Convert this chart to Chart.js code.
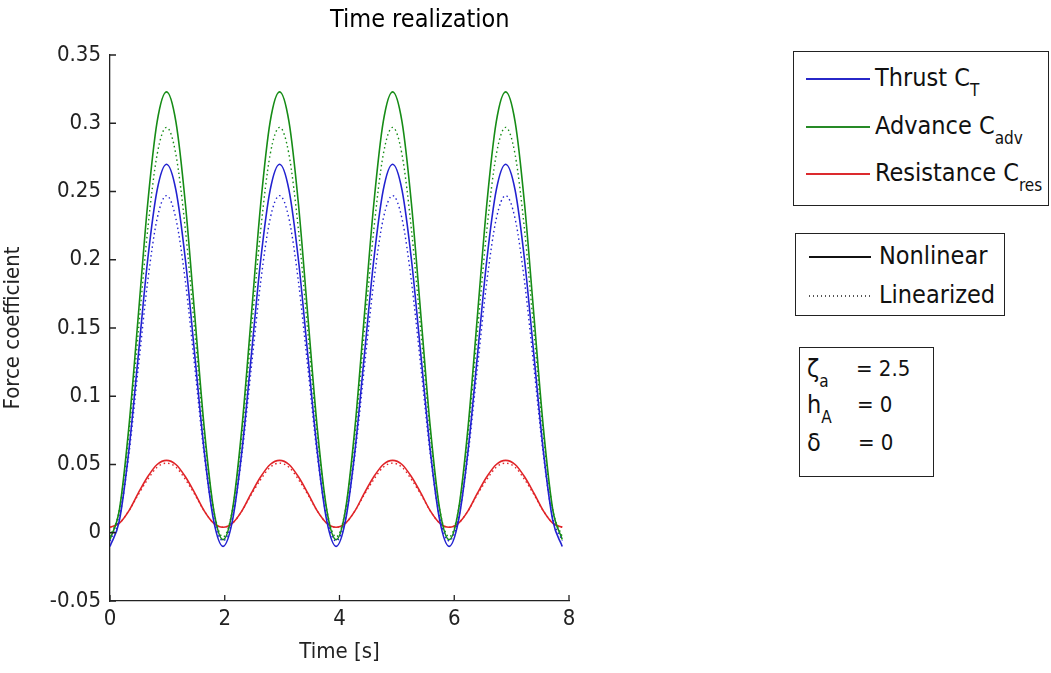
<!DOCTYPE html>
<html>
<head>
<meta charset="utf-8">
<title>Time realization</title>
<script src="https://cdn.jsdelivr.net/npm/chart.js@4.4.0/dist/chart.umd.min.js"></script>
<style>
    body { margin: 0; background: #fff; }
    #wrap { position: relative; width: 1051px; height: 673px; font-family: 'DejaVu Sans Condensed', 'DejaVu Sans', sans-serif; color: #111; }
    #chart-box { position: absolute; left: 0; top: 0; width: 1051px; height: 673px; }
    .title { position: absolute; left: 330px; top: 4px; font-size: 25px; line-height: 30px; white-space: nowrap; color: #000; }
    .box { position: absolute; box-sizing: border-box; border: 1.5px solid #222; background: #fff; }
    .row { position: absolute; font-size: 25px; line-height: 26px; white-space: nowrap; }
    .row.small { font-size: 22px; }
    .sb { position: relative; top: 10px; font-size: 17px; }
    .sample { position: absolute; height: 1.5px; }
    .dots { position: absolute; height: 1.5px; background: repeating-linear-gradient(90deg, #555 0 1.5px, transparent 1.5px 4px); }
</style>
</head>
<body>
<div id="wrap">
    <div id="chart-box"><canvas id="chart"></canvas></div>
    <div class="title">Time realization</div>

    <!-- force legend -->
    <div class="box" style="left:793px; top:51px; width:256px; height:155px;">
        <div class="sample" style="left:12px; top:26px; width:64px; background:#2727c8;"></div>
        <div class="row" style="left:81px; top:13px;">Thrust C<span class="sb">T</span></div>
        <div class="sample" style="left:12px; top:74px; width:64px; background:#268a26;"></div>
        <div class="row" style="left:81px; top:61px;">Advance C<span class="sb">adv</span></div>
        <div class="sample" style="left:12px; top:121px; width:64px; background:#dc2a2e;"></div>
        <div class="row" style="left:81px; top:108px;">Resistance C<span class="sb">res</span></div>
    </div>

    <!-- line style legend -->
    <div class="box" style="left:795px; top:233px; width:210px; height:83px;">
        <div class="sample" style="left:13px; top:22px; width:62px; background:#111;"></div>
        <div class="row" style="left:83px; top:9px;">Nonlinear</div>
        <div class="dots" style="left:13px; top:61px; width:62px;"></div>
        <div class="row" style="left:83px; top:48px;">Linearized</div>
    </div>

    <!-- parameters -->
    <div class="box" style="left:799px; top:347px; width:135px; height:130px;">
        <div class="row" style="left:7px; top:8px;">ζ<span class="sb">a</span></div>
        <div class="row small" style="left:56px; top:8px;">= 2.5</div>
        <div class="row" style="left:7px; top:44px;">h<span class="sb">A</span></div>
        <div class="row small" style="left:57px; top:44px;">= 0</div>
        <div class="row" style="left:7px; top:82px;">δ</div>
        <div class="row small" style="left:58px; top:82px;">= 0</div>
    </div>
</div>

<script>
// Time samples [s]
const times = [
    0, 0.164, 0.328, 0.493, 0.657, 0.821, 0.985, 1.149, 1.314, 1.478, 1.642, 1.806,
    1.970, 2.135, 2.299, 2.463, 2.627, 2.791, 2.956, 3.120, 3.284, 3.448, 3.612, 3.777,
    3.941, 4.105, 4.269, 4.433, 4.598, 4.762, 4.926, 5.090, 5.254, 5.419, 5.583, 5.747,
    5.911, 6.075, 6.240, 6.404, 6.568, 6.732, 6.896, 7.061, 7.225, 7.389, 7.553, 7.717,
    7.882
];

// Force coefficients
const thrustNonlinear = [
    -0.010, 0.009, 0.060, 0.130, 0.200, 0.251, 0.270, 0.251, 0.200, 0.130, 0.060, 0.009,
    -0.010, 0.009, 0.060, 0.130, 0.200, 0.251, 0.270, 0.251, 0.200, 0.130, 0.060, 0.009,
    -0.010, 0.009, 0.060, 0.130, 0.200, 0.251, 0.270, 0.251, 0.200, 0.130, 0.060, 0.009,
    -0.010, 0.009, 0.060, 0.130, 0.200, 0.251, 0.270, 0.251, 0.200, 0.130, 0.060, 0.009,
    -0.010
];
const thrustLinearized = [
    -0.006, 0.011, 0.057, 0.121, 0.184, 0.230, 0.247, 0.230, 0.184, 0.121, 0.057, 0.011,
    -0.006, 0.011, 0.057, 0.121, 0.184, 0.230, 0.247, 0.230, 0.184, 0.121, 0.057, 0.011,
    -0.006, 0.011, 0.057, 0.121, 0.184, 0.230, 0.247, 0.230, 0.184, 0.121, 0.057, 0.011,
    -0.006, 0.011, 0.057, 0.121, 0.184, 0.230, 0.247, 0.230, 0.184, 0.121, 0.057, 0.011,
    -0.006
];
const advanceNonlinear = [
    -0.005, 0.017, 0.077, 0.159, 0.241, 0.301, 0.323, 0.301, 0.241, 0.159, 0.077, 0.017,
    -0.005, 0.017, 0.077, 0.159, 0.241, 0.301, 0.323, 0.301, 0.241, 0.159, 0.077, 0.017,
    -0.005, 0.017, 0.077, 0.159, 0.241, 0.301, 0.323, 0.301, 0.241, 0.159, 0.077, 0.017,
    -0.005, 0.017, 0.077, 0.159, 0.241, 0.301, 0.323, 0.301, 0.241, 0.159, 0.077, 0.017,
    -0.005
];
const advanceLinearized = [
    -0.003, 0.017, 0.072, 0.147, 0.222, 0.277, 0.297, 0.277, 0.222, 0.147, 0.072, 0.017,
    -0.003, 0.017, 0.072, 0.147, 0.222, 0.277, 0.297, 0.277, 0.222, 0.147, 0.072, 0.017,
    -0.003, 0.017, 0.072, 0.147, 0.222, 0.277, 0.297, 0.277, 0.222, 0.147, 0.072, 0.017,
    -0.003, 0.017, 0.072, 0.147, 0.222, 0.277, 0.297, 0.277, 0.222, 0.147, 0.072, 0.017,
    -0.003
];
const resistanceNonlinear = [
    0.004, 0.007, 0.016, 0.029, 0.041, 0.050, 0.053, 0.050, 0.041, 0.029, 0.016, 0.007,
    0.004, 0.007, 0.016, 0.029, 0.041, 0.050, 0.053, 0.050, 0.041, 0.029, 0.016, 0.007,
    0.004, 0.007, 0.016, 0.029, 0.041, 0.050, 0.053, 0.050, 0.041, 0.029, 0.016, 0.007,
    0.004, 0.007, 0.016, 0.029, 0.041, 0.050, 0.053, 0.050, 0.041, 0.029, 0.016, 0.007,
    0.004
];
const resistanceLinearized = [
    0.004, 0.007, 0.016, 0.028, 0.039, 0.048, 0.051, 0.048, 0.039, 0.028, 0.016, 0.007,
    0.004, 0.007, 0.016, 0.028, 0.039, 0.048, 0.051, 0.048, 0.039, 0.028, 0.016, 0.007,
    0.004, 0.007, 0.016, 0.028, 0.039, 0.048, 0.051, 0.048, 0.039, 0.028, 0.016, 0.007,
    0.004, 0.007, 0.016, 0.028, 0.039, 0.048, 0.051, 0.048, 0.039, 0.028, 0.016, 0.007,
    0.004
];

// Axis tick labels
const xTickLabels = ['0', '2', '4', '6', '8'];
const yTickLabels = ['-0.05', '0', '0.05', '0.1', '0.15', '0.2', '0.25', '0.3', '0.35'];

const fontFamily = "'DejaVu Sans Condensed', 'DejaVu Sans', sans-serif";
const blue = '#2222d0';
const green = '#168c16';
const red = '#e02428';

function toPoints(values) {
    return values.map((v, i) => ({ x: times[i], y: v }));
}

function line(label, values, color, dotted) {
    return {
        label: label,
        data: toPoints(values),
        borderColor: color,
        borderWidth: dotted ? 1.4 : 1.6,
        borderDash: dotted ? [1.5, 3] : [],
        pointRadius: 0,
        cubicInterpolationMode: 'monotone',
        fill: false
    };
}

// MATLAB style ticks pointing into the plot
const inwardTicks = {
    id: 'inwardTicks',
    afterDatasetsDraw(chart) {
        const { ctx, chartArea, scales } = chart;
        ctx.save();
        ctx.strokeStyle = '#222';
        ctx.lineWidth = 1.3;
        ctx.beginPath();
        scales.y.ticks.forEach(t => {
            const y = scales.y.getPixelForValue(t.value);
            ctx.moveTo(chartArea.left, y);
            ctx.lineTo(chartArea.left + 6, y);
        });
        scales.x.ticks.forEach(t => {
            const x = scales.x.getPixelForValue(t.value);
            ctx.moveTo(x, chartArea.bottom);
            ctx.lineTo(x, chartArea.bottom - 6);
        });
        ctx.stroke();
        ctx.restore();
    }
};

new Chart(document.getElementById('chart'), {
    type: 'line',
    data: {
        datasets: [
            line('Thrust C_T nonlinear', thrustNonlinear, blue, false),
            line('Thrust C_T linearized', thrustLinearized, blue, true),
            line('Advance C_adv nonlinear', advanceNonlinear, green, false),
            line('Advance C_adv linearized', advanceLinearized, green, true),
            line('Resistance C_res nonlinear', resistanceNonlinear, red, false),
            line('Resistance C_res linearized', resistanceLinearized, red, true)
        ]
    },
    options: {
        responsive: true,
        maintainAspectRatio: false,
        animation: false,
        layout: { padding: { top: 55, right: 482, left: 0, bottom: 0 } },
        plugins: {
            legend: { display: false },
            tooltip: { enabled: false }
        },
        scales: {
            x: {
                type: 'linear',
                min: 0,
                max: 8,
                afterFit: scale => { scale.height = 72; },
                ticks: {
                    stepSize: 2,
                    padding: 5,
                    color: '#222',
                    font: { family: fontFamily, size: 22 },
                    callback: (value, index) => xTickLabels[index]
                },
                grid: { display: true, drawOnChartArea: false, drawTicks: false },
                border: { display: true, color: '#222', width: 1.3 },
                title: {
                    display: true,
                    text: 'Time [s]',
                    color: '#222',
                    font: { family: fontFamily, size: 22 },
                    padding: { top: 0, bottom: 8 }
                }
            },
            y: {
                type: 'linear',
                min: -0.05,
                max: 0.35,
                afterFit: scale => { scale.width = 110; },
                ticks: {
                    stepSize: 0.05,
                    padding: 9,
                    color: '#222',
                    font: { family: fontFamily, size: 22 },
                    callback: (value, index) => yTickLabels[index]
                },
                grid: { display: true, drawOnChartArea: false, drawTicks: false },
                border: { display: true, color: '#222', width: 1.3 },
                title: {
                    display: true,
                    text: 'Force coefficient',
                    color: '#222',
                    font: { family: fontFamily, size: 22 },
                    padding: { top: 0, bottom: 8 }
                }
            }
        }
    },
    plugins: [inwardTicks]
});
</script>
</body>
</html>
